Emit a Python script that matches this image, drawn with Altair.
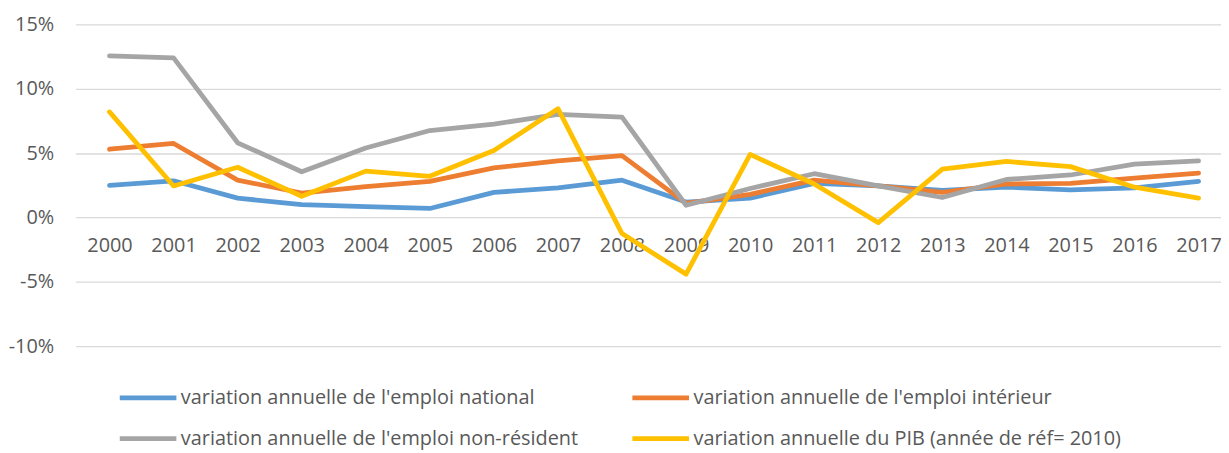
import altair as alt
import pandas as pd

years = list(range(2000, 2018))
series_names = [
    "variation annuelle de l'emploi national",
    "variation annuelle de l'emploi intérieur",
    "variation annuelle de l'emploi non-résident",
    "variation annuelle du PIB (année de réf= 2010)",
]
national = [2.5, 2.85, 1.5, 1.0, 0.85, 0.7, 1.95, 2.3, 2.9, 1.2, 1.5, 2.65, 2.45, 2.1, 2.35, 2.15, 2.3, 2.8]
interieur = [5.3, 5.75, 2.9, 1.9, 2.4, 2.8, 3.85, 4.4, 4.8, 1.1, 1.8, 2.9, 2.45, 1.95, 2.6, 2.65, 3.05, 3.45]
non_resident = [12.55, 12.4, 5.8, 3.55, 5.4, 6.75, 7.25, 8.0, 7.8, 0.95, 2.25, 3.4, 2.45, 1.55, 2.95, 3.3, 4.15, 4.4]
pib = [8.2, 2.45, 3.9, 1.65, 3.6, 3.2, 5.2, 8.45, -1.25, -4.4, 4.9, 2.6, -0.4, 3.75, 4.35, 3.95, 2.35, 1.5]
colors = ["#5B9BD5", "#ED7D31", "#A5A5A5", "#FFC000"]
y_ticks = [-10, -5, 0, 5, 10, 15]

rows = []
for name, vals in zip(series_names, [national, interieur, non_resident, pib]):
    for yr, v in zip(years, vals):
        rows.append({"annee": yr, "valeur": v, "serie": name})
df = pd.DataFrame(rows)

# legend is filled column by column: order the domain so rows read as in the reference
legend_order = [0, 2, 1, 3]
domain = [series_names[i] for i in legend_order]
rng = [colors[i] for i in legend_order]

FONT = "Open Sans"
TXT = "#595959"

chart = alt.Chart(df).mark_line(strokeWidth=4.8, strokeJoin="round", strokeCap="round").encode(
    x=alt.X("annee:Q",
            scale=alt.Scale(domain=[1999.47, 2017.35], nice=False, zero=False),
            axis=alt.Axis(values=years, format="d", title=None, grid=False, domain=False,
                          ticks=False, offset=-130, labelPadding=19, labelFontSize=20,
                          labelColor=TXT, labelFont=FONT, labelFlush=False, labelOverlap=False)),
    y=alt.Y("valeur:Q",
            scale=alt.Scale(domain=[-10, 15], nice=False),
            axis=alt.Axis(values=y_ticks, labelExpr="datum.value + '%'", title=None,
                          domain=False, ticks=False, labelPadding=22, labelFontSize=20,
                          labelColor=TXT, labelFont=FONT, gridColor="#D9D9D9", gridWidth=1.3)),
    color=alt.Color("serie:N",
                    scale=alt.Scale(domain=domain, range=rng),
                    legend=alt.Legend(title=None, orient="none", legendX=42, legendY=345,
                                      columns=2, columnPadding=43, rowPadding=-11,
                                      symbolType="stroke", symbolSize=3249, symbolStrokeWidth=5,
                                      labelOffset=2, labelFontSize=20, labelFont=FONT,
                                      labelColor=TXT, labelLimit=600, padding=0)),
).properties(
    width=1153, height=324,
    autosize=alt.AutoSizeParams(type="none"),
    padding={"left": 68, "top": 15, "right": 0, "bottom": 104},
).configure_view(stroke=None)

chart.save("out.html", embed_options={"renderer": "svg", "actions": False})
